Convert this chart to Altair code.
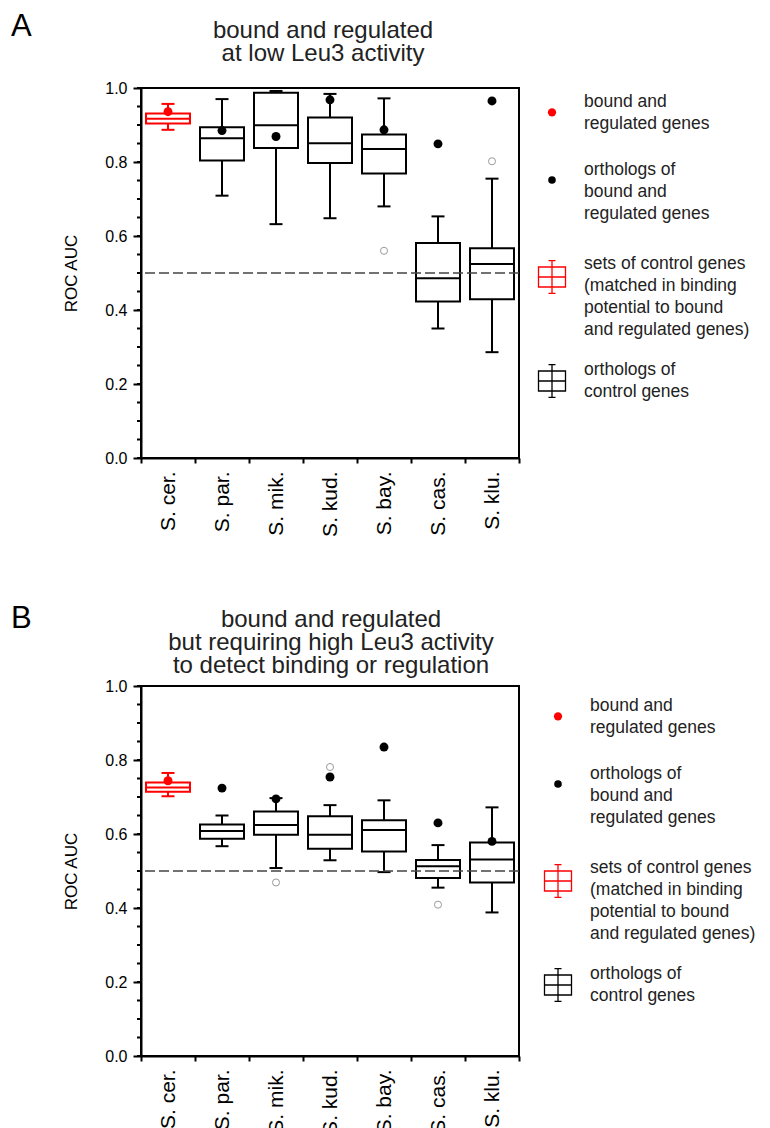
import altair as alt
import pandas as pd

# ---------------- data ----------------
species = ["S. cer.", "S. par.", "S. mik.", "S. kud.", "S. bay.", "S. cas.", "S. klu."]

# Panel A: bound and regulated at low Leu3 activity
a_lo = [0.887, 0.709, 0.632, 0.648, 0.680, 0.350, 0.286]
a_q1 = [0.904, 0.804, 0.838, 0.797, 0.769, 0.423, 0.429]
a_med = [0.917, 0.864, 0.899, 0.851, 0.835, 0.486, 0.524]
a_q3 = [0.931, 0.894, 0.987, 0.920, 0.874, 0.581, 0.567]
a_hi = [0.957, 0.970, 0.992, 0.984, 0.972, 0.653, 0.755]
a_dot = [0.936, 0.885, 0.869, 0.968, 0.887, 0.849, 0.965]
a_out_species = ["S. bay.", "S. klu."]
a_out_values = [0.560, 0.802]

# Panel B: bound and regulated but requiring high Leu3 activity
b_lo = [0.702, 0.567, 0.508, 0.529, 0.497, 0.455, 0.388]
b_q1 = [0.714, 0.587, 0.598, 0.560, 0.553, 0.481, 0.469]
b_med = [0.726, 0.608, 0.624, 0.598, 0.611, 0.513, 0.531]
b_q3 = [0.739, 0.626, 0.661, 0.648, 0.637, 0.530, 0.577]
b_hi = [0.765, 0.650, 0.697, 0.678, 0.691, 0.570, 0.672]
b_dot = [0.744, 0.724, 0.695, 0.754, 0.835, 0.630, 0.580]
b_out_species = ["S. mik.", "S. kud.", "S. cas."]
b_out_values = [0.469, 0.781, 0.409]

title_a = "bound and regulated\nat low Leu3 activity"
title_b = "bound and regulated\nbut requiring high Leu3 activity\nto detect binding or regulation"

legend_labels = [
    "bound and\nregulated genes",
    "orthologs of\nbound and\nregulated genes",
    "sets of control genes\n(matched in binding\npotential to bound\nand regulated genes)",
    "orthologs of\ncontrol genes",
]

y_major = [0.0, 0.2, 0.4, 0.6, 0.8, 1.0]
y_minor = [round(i * 0.05, 2) for i in range(21)]

FONT = "Liberation Sans"
W, H = 378, 370
RED = "#ff0000"
BOX_PATH = ("M-1,-0.74H1V0.74H-1Z M-1,0H1 M0,-1.22V1.22 "
            "M-0.26,-1.22H0.26 M-0.26,1.22H0.26")


def one():
    return alt.Chart(alt.Data(values=[{"k": 0}]))


def panel(letter, letter_y, title_text, title_cx, title_y, lo, q1, med, q3, hi, dot,
          out_sp, out_val, ldx, ldy):
    df = pd.DataFrame({"species": species, "lo": lo, "q1": q1, "med": med,
                       "q3": q3, "hi": hi, "dot": dot})
    df["grp"] = ["cer"] + ["orth"] * (len(species) - 1)
    odf = pd.DataFrame({"species": out_sp, "v": out_val})
    tdf = pd.DataFrame({"t": y_minor})

    xenc = alt.X("species:N", sort=species, title=None,
                 scale=alt.Scale(domain=species, paddingInner=0, paddingOuter=0),
                 axis=alt.Axis(labelAngle=270, tickBand="extent"))
    yscale = alt.Scale(domain=[0, 1], nice=False, zero=True)
    yaxis = alt.Axis(values=y_major, title="ROC AUC", format=".1f")

    def Y(field):
        return alt.Y(field, scale=yscale, axis=yaxis)

    col = alt.Color("grp:N", legend=None,
                    scale=alt.Scale(domain=["cer", "orth"], range=[RED, "black"]))

    base = alt.Chart(df).encode(x=xenc)
    wlo = base.mark_rule(strokeWidth=2).encode(y=Y("lo:Q"), y2="q1:Q", color=col)
    whi = base.mark_rule(strokeWidth=2).encode(y=Y("q3:Q"), y2="hi:Q", color=col)
    box = base.mark_bar(size=44, fillOpacity=0, strokeWidth=2).encode(
        y=Y("q1:Q"), y2="q3:Q", stroke=col)
    medt = base.mark_tick(size=44, thickness=2, opacity=1).encode(y=Y("med:Q"), color=col)
    caplo = base.mark_tick(size=13, thickness=2, opacity=1).encode(y=Y("lo:Q"), color=col)
    caphi = base.mark_tick(size=13, thickness=2, opacity=1).encode(y=Y("hi:Q"), color=col)
    dots = base.mark_circle(size=80, opacity=1).encode(y=Y("dot:Q"), color=col)
    outs = alt.Chart(odf).mark_point(size=50, filled=False, color="#9a9a9a",
                                     strokeWidth=1, opacity=1).encode(
        x=alt.X("species:N", sort=species), y=Y("v:Q"))
    ref = one().mark_rule(color="#444444", strokeDash=[10, 4], strokeWidth=1.5).encode(
        y=alt.datum(0.5))
    minor = alt.Chart(tdf).mark_rule(color="black", strokeWidth=2).encode(
        y=Y("t:Q"), x=alt.value(-4), x2=alt.value(0))

    letter_t = one().mark_text(fontSize=31, align="left", baseline="alphabetic",
                               color="black").encode(
        x=alt.value(-130), y=alt.value(letter_y), text=alt.value(letter))
    title_t = one().mark_text(fontSize=24, lineHeight=23, align="center",
                              baseline="alphabetic", lineBreak="\n",
                              color="#222222").encode(
        x=alt.value(title_cx), y=alt.value(title_y), text=alt.value(title_text))

    # legend (drawn next to the plot)
    sx, tx = 411 + ldx, 443 + ldx
    sym_y = [24.3, 92, 189, 293]
    txt_y = [18.7, 87, 181, 287]
    leg = []
    leg.append(one().mark_circle(size=68, color=RED, opacity=1).encode(
        x=alt.value(sx), y=alt.value(sym_y[0] + ldy)))
    leg.append(one().mark_circle(size=58, color="black", opacity=1).encode(
        x=alt.value(sx), y=alt.value(sym_y[1] + ldy)))
    leg.append(one().mark_point(shape=BOX_PATH, size=729, filled=False, color=RED,
                                strokeWidth=1.3, opacity=1).encode(
        x=alt.value(sx), y=alt.value(sym_y[2] + ldy)))
    leg.append(one().mark_point(shape=BOX_PATH, size=729, filled=False, color="black",
                                strokeWidth=1.3, opacity=1).encode(
        x=alt.value(sx), y=alt.value(sym_y[3] + ldy)))
    for lab, ty in zip(legend_labels, txt_y):
        leg.append(one().mark_text(fontSize=17.5, lineHeight=22, align="left",
                                   baseline="alphabetic", lineBreak="\n",
                                   color="#222222").encode(
            x=alt.value(tx), y=alt.value(ty + ldy), text=alt.value(lab)))

    return alt.layer(minor, wlo, whi, box, medt, caplo, caphi, dots, outs, ref,
                     letter_t, title_t, *leg).properties(width=W, height=H)


row_a = panel("A", -52, title_a, 182, -49.7, a_lo, a_q1, a_med, a_q3, a_hi, a_dot,
              a_out_species, a_out_values, 0, 0)
row_b = panel("B", -58, title_b, 190, -59.3, b_lo, b_q1, b_med, b_q3, b_hi, b_dot,
              b_out_species, b_out_values, 6, 6)

chart = alt.vconcat(row_a, row_b, spacing=64).configure(
    font=FONT, padding={"left": 2, "top": 2, "right": 0, "bottom": 5},
    background="white"
).configure_view(
    stroke="black", strokeWidth=2
).configure_axis(
    grid=False, domainColor="black", tickColor="black", domainWidth=2,
    tickWidth=2, labelColor="black", titleColor="black"
).configure_axisY(
    tickSize=8, labelFontSize=16, labelPadding=6, titleFontSize=17,
    titleFontWeight="normal", titlePadding=24
).configure_axisX(
    tickSize=5, labelFontSize=21, labelPadding=8
)

chart.save("out.html", embed_options={"renderer": "svg", "actions": False})
